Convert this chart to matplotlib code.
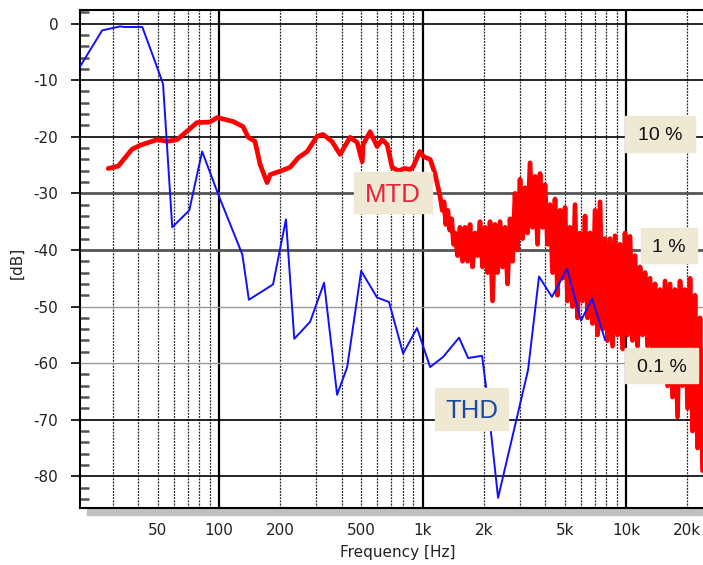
import matplotlib as mpl
mpl.use('Agg')
import matplotlib.pyplot as plt
import matplotlib.ticker as tick
from matplotlib.patches import Rectangle

# --- THD (blue) ---
thd_freq = [20.7, 26.6, 32.6, 34.1, 41.9, 50, 53, 58.8, 71.3, 82.5, 99, 130, 140, 184, 213,
            234, 280, 328, 380, 426, 499, 597, 684, 802, 939, 1089, 1262, 1511, 1675, 1960,
            2051, 2350, 3300, 3735, 4325, 5130, 6010, 6810, 7890]
thd_db = [-7.6, -1.2, -0.5, -0.6, -0.6, -8.1, -10.7, -36.0, -33.0, -22.6, -30.2, -40.8, -48.8, -46.1, -34.6,
          -55.7, -52.7, -45.8, -65.6, -60.7, -43.7, -48.4, -49.2, -58.3, -53.8, -60.7, -58.9, -55.5, -59.1, -58.7,
          -64.2, -83.8, -61.2, -44.7, -48.3, -43.3, -52.5, -48.6, -55.9]

# --- MTD (red), smooth low part ---
mtd_freq_lo = [28.5, 31.9, 37.3, 40.9, 49.6, 55.5, 62.2, 68, 77.8, 90, 97.8, 117, 131, 139, 150,
               159, 172, 178, 199, 223, 245, 271, 303, 324, 358, 393, 440, 477, 505, 510,
               552, 597, 634, 670, 708, 760, 820, 868, 899, 969, 1010, 1090, 1150, 1220, 1250,
               1275, 1300, 1330, 1360, 1390, 1420]
mtd_db_lo = [-25.6, -25.2, -22.2, -21.5, -20.5, -20.8, -20.5, -19.3, -17.5, -17.4, -16.6, -17.3, -18.2, -20.1, -20.8,
             -24.9, -28.1, -26.7, -26.1, -25.4, -23.7, -22.6, -19.9, -19.6, -20.8, -23.1, -20.1, -21.0, -24.4, -21.4,
             -19.1, -21.7, -20.5, -21.4, -25.4, -26.0, -25.6, -25.8, -25.3, -22.6, -23.5, -24.0, -26.5, -30.6, -33.0,
             -31.5, -35.5, -33.0, -36.5, -34.5, -39.0]

# --- MTD (red), noisy high part ---
mtd_freq_hi = [1444, 1485, 1528, 1572, 1617, 1663, 1711, 1760, 1811, 1863,
               1916, 1971, 2028, 2086, 2146, 2207, 2271, 2336, 2403, 2472,
               2543, 2616, 2691, 2768, 2848, 2929, 3013, 3100, 3189, 3280,
               3374, 3471, 3571, 3673, 3779, 3887, 3999, 4113, 4231, 4353,
               4478, 4606, 4739, 4875, 5014, 5158, 5306, 5459, 5615, 5777,
               5942, 6113, 6289, 6469, 6655, 6846, 7043, 7245, 7452, 7666,
               7886, 8113, 8346, 8585, 8832, 9085, 9346, 9614, 9890, 10174,
               10466, 10766, 11075, 11393, 11720, 12056, 12402, 12758, 13124, 13501,
               13888, 14287, 14697, 15119, 15553, 15999, 16458, 16930, 17416, 17916,
               18430, 18959, 19503, 20063, 20639, 21231, 21840, 22467, 23112, 23775]
mtd_db_hi = [-37, -41, -36, -42, -36, -42, -35.5, -43, -37, -41,
             -35, -43, -36, -44, -35, -49, -35.5, -44, -35, -43,
             -36, -46, -34.5, -42, -30, -40, -27.5, -38, -29, -37,
             -24.6, -36, -27, -39, -26.5, -36, -28.5, -39, -32, -44,
             -31, -48, -33, -45, -32.5, -49, -36, -50, -32, -52,
             -37, -49, -34, -52, -37, -53, -33, -55, -31.5, -54,
             -38, -56, -38, -57, -37.5, -55, -39, -57.5, -37, -55,
             -37.6, -56, -41, -57, -43, -55, -44, -57, -45, -58,
             -46, -60, -47, -62, -45.5, -64, -46, -66, -47, -69.5,
             -45.5, -64, -47, -68, -45, -72, -48, -75, -52, -79]

# axis ticks / grid
xtick_vals = [50, 100, 200, 500, 1000, 2000, 5000, 10000, 20000]
xtick_labels = ['50', '100', '200', '500', '1k', '2k', '5k', '10k', '20k']
ytick_vals = [0, -10, -20, -30, -40, -50, -60, -70, -80]
grid_minor = [30, 40, 50, 60, 70, 80, 90, 200, 300, 400, 500, 600, 700, 800, 900,
              2000, 3000, 4000, 5000, 6000, 7000, 8000, 9000, 20000]
grid_major = [100, 1000, 10000]

W, H = 703, 565
fig = plt.figure(figsize=(W / 100, H / 100), dpi=100)
ax = fig.add_axes([80 / W, 1 - 508 / H, (W - 80) / W, (508 - 10) / H])

def fx(x):
    return x / W

def fy(y):
    return 1 - y / H

ax.set_xscale('log')
ax.set_xlim(20.7, 23900)
ax.set_ylim(-85.6, 2.4)

# grid
for f in grid_minor:
    ax.axvline(f, color='#222222', lw=0.9, ls=(0, (1.5, 1)), zorder=1)
for f in grid_major:
    ax.axvline(f, color='black', lw=1.6, zorder=1)
hstyle = {0: ('black', 1.2), -10: ('black', 1.2), -20: ('black', 1.2), -30: ('#555555', 2.0),
          -40: ('#555555', 2.0), -50: ('#999999', 1.0), -60: ('#999999', 1.0),
          -70: ('black', 1.2), -80: ('black', 1.2)}
for v in ytick_vals:
    c, w = hstyle[v]
    ax.axhline(v, color=c, lw=w, zorder=1)

# curves
ax.plot(mtd_freq_lo + mtd_freq_hi, mtd_db_lo + mtd_db_hi, color='#ff0000', lw=3.4, zorder=3,
        solid_joinstyle='round', solid_capstyle='round')
ax.plot(thd_freq, thd_db, color='#1010ff', lw=1.4, zorder=4)

# ticks
ax.set_xticks(xtick_vals)
ax.set_xticklabels(xtick_labels)
ax.xaxis.set_minor_locator(tick.NullLocator())
ax.set_yticks(ytick_vals)
ax.set_yticklabels([str(v) for v in ytick_vals])
ax.yaxis.set_minor_locator(tick.MultipleLocator(2))
ax.tick_params(axis='x', which='major', length=0, pad=11, labelsize=11, labelcolor='#222222')
ax.tick_params(axis='y', which='major', direction='out', length=6.5, width=1.2, pad=9,
               labelsize=11, labelcolor='#222222')
ax.tick_params(axis='y', which='minor', direction='in', length=6.5, width=1.8, color='#555555')

for s in ['left', 'top', 'bottom']:
    ax.spines[s].set_color('black')
    ax.spines[s].set_linewidth(1.5)
ax.spines['right'].set_visible(False)

# grey shadow strip under the plot
fig.add_artist(Rectangle((fx(87), fy(515)), (W - 87) / W, 7 / H, transform=fig.transFigure,
                         color='#c0c0c0', zorder=0))

fig.text(fx(398), fy(552), 'Frequency [Hz]', ha='center', va='center', fontsize=11, color='#222222')
fig.text(fx(17), fy(263), '[dB]', ha='center', va='center', rotation=90, fontsize=11, color='#222222')

# label boxes
def label_box(x0, y0, x1, y1, text, color, size):
    fig.add_artist(Rectangle((fx(x0), fy(y1)), (x1 - x0) / W, (y1 - y0) / H,
                             transform=fig.transFigure, color='#efe8d2', zorder=5))
    fig.text(fx((x0 + x1) / 2), fy((y0 + y1) / 2), text, ha='center', va='center_baseline',
             fontsize=size, color=color, family='Liberation Sans', zorder=6)

label_box(625, 116, 695, 152, '10 %', '#111111', 14)
label_box(641, 228, 697, 263, '1 %', '#111111', 14)
label_box(625, 348, 698, 383, '0.1 %', '#111111', 14)
label_box(354, 172, 432, 213, 'MTD', '#e8203a', 18.5)
label_box(435, 388, 508, 430, 'THD', '#1c4aa0', 18.5)

plt.savefig('out.png', dpi=100)
